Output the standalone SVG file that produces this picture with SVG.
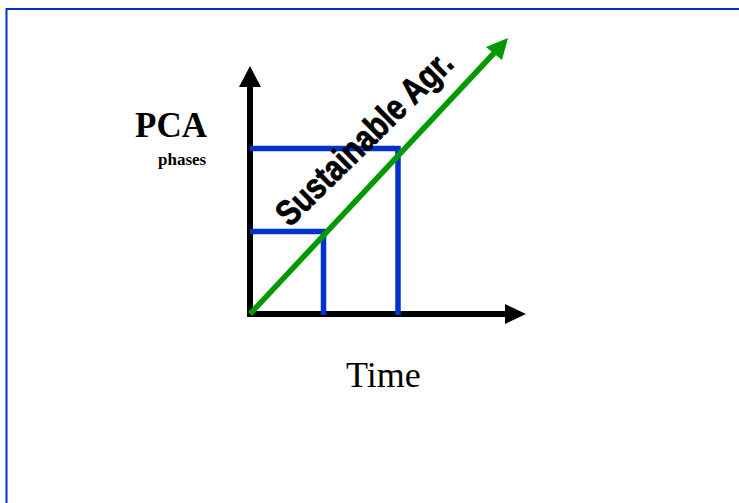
<svg xmlns="http://www.w3.org/2000/svg" width="739" height="503" viewBox="0 0 739 503">
<style>
.axis{stroke:#000;stroke-width:6;fill:none}
.blue{stroke:#0033cc;stroke-width:5.5;fill:none}
.green{stroke:#009900;stroke-width:5.5;fill:none}
</style>
<rect width="739" height="503" fill="#fff"/>
<g id="frame"><path d="M6.5 510 V9 H745" fill="none" stroke="#0033cc" stroke-width="2"/></g>
<g id="connectors">
<line class="axis" x1="250" y1="317" x2="250" y2="84"/>
<polygon points="250,66 239,87 261,87" fill="#000"/>
<line class="axis" x1="247" y1="314" x2="508" y2="314"/>
<polygon points="526,314 505,304 505,324" fill="#000"/>
<polyline class="blue" points="250,148.5 398,148.5 398,315"/>
<polyline class="blue" points="250,231.5 323.5,231.5 323.5,315"/>
<line class="green" x1="250" y1="314" x2="496" y2="51"/>
<polygon points="508,38 486,47 502,60" fill="#009900"/>
</g>
<g id="label-pca"><text x="135" y="137" font-family="Liberation Serif, serif" font-weight="bold" font-size="35">PCA</text>
<text x="158" y="165" font-family="Liberation Serif, serif" font-weight="bold" font-size="17">phases</text></g>
<g id="label-time"><text x="346" y="387" font-family="Liberation Serif, serif" font-size="36">Time</text></g>
<g id="label-sa"><text transform="translate(290,228) rotate(-44.5)" font-family="Liberation Sans, Arial, sans-serif" font-weight="bold" font-size="36" stroke="#000" stroke-width="0.8" textLength="232" lengthAdjust="spacingAndGlyphs">Sustainable Agr.</text></g>
</svg>
